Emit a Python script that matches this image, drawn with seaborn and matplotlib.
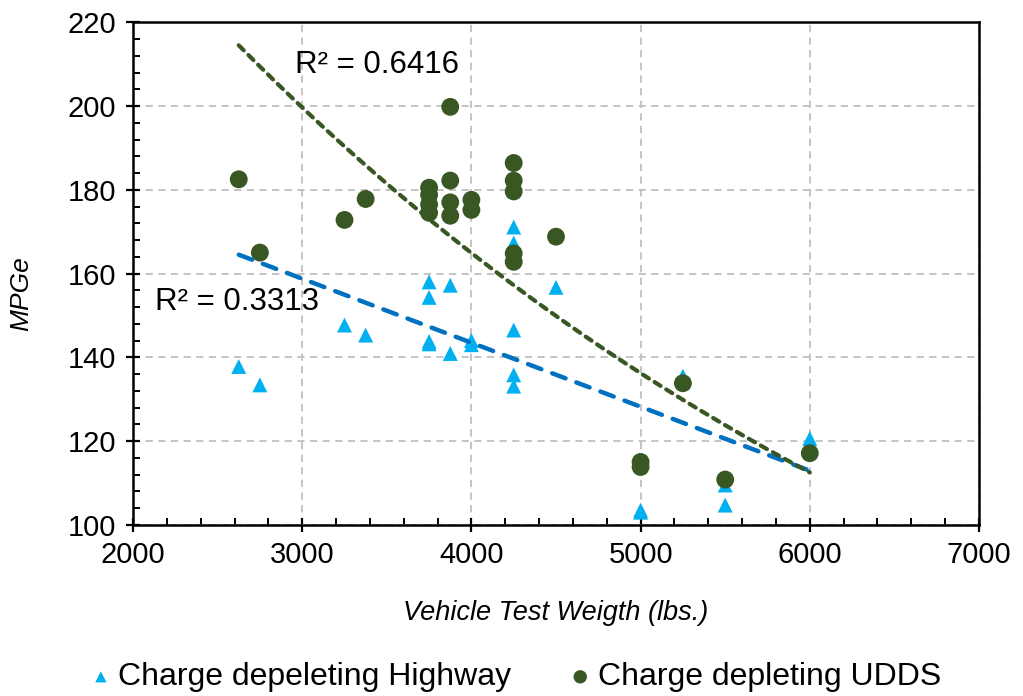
import numpy as np
import pandas as pd
import matplotlib
matplotlib.use("Agg")
import matplotlib.pyplot as plt
from matplotlib.ticker import MultipleLocator
import seaborn as sns

# ---- data ----
hw_weight = [2625, 2750, 3250, 3375, 3750, 3750, 3750, 3750, 3875, 3875, 4000, 4000,
             4250, 4250, 4250, 4250, 4250, 4500, 5000, 5000, 5250, 5500, 5500, 6000]
hw_mpge = [137.8, 133.4, 147.7, 145.3, 158.0, 154.3, 143.8, 143.2, 157.2, 140.9, 144.0, 143.0,
           171.1, 167.3, 146.5, 135.8, 133.1, 156.7, 103.5, 103.0, 135.5, 109.5, 104.7, 120.6]

udds_weight = [2625, 2750, 3250, 3375, 3750, 3750, 3750, 3750, 3875, 3875, 3875, 3875,
               4000, 4000, 4250, 4250, 4250, 4250, 4250, 4500, 5000, 5000, 5250, 5500, 6000]
udds_mpge = [182.5, 165.0, 172.8, 177.8, 180.5, 178.8, 176.5, 174.5, 199.8, 182.2, 177.0, 173.8,
             177.6, 175.2, 186.4, 182.2, 179.6, 164.8, 162.8, 168.8, 115.0, 113.8, 133.8, 110.8, 117.1]

# trendline end values
hw_trend_weight = [2625, 6000]      # linear trendline
hw_trend_mpge = [164.5, 112.9]
udds_trend_weight = [2625, 6000]    # exponential trendline
udds_trend_mpge = [214.5, 112.5]

hw_label = "Charge depeleting Highway"
udds_label = "Charge depleting UDDS"
r2_udds = "R² = 0.6416"
r2_hw = "R² = 0.3313"
x_ticks = [2000, 3000, 4000, 5000, 6000, 7000]
y_ticks = [100, 120, 140, 160, 180, 200, 220]

C_HW = "#00B0F0"
C_HW_LINE = "#0070C0"
C_UDDS = "#385723"

sns.set_theme(style="white")
plt.rcParams["font.family"] = ["Liberation Sans", "DejaVu Sans"]
plt.rcParams["text.color"] = "black"
plt.rcParams["axes.labelcolor"] = "black"

fig = plt.figure(figsize=(10.23, 6.96), dpi=100)
ax = fig.add_axes([0.130, 0.246, 0.827, 0.722])

hw = pd.DataFrame({"w": hw_weight, "m": hw_mpge})
ud = pd.DataFrame({"w": udds_weight, "m": udds_mpge})

# linear trendline for highway
tr_hw = pd.DataFrame({"w": hw_trend_weight, "m": hw_trend_mpge})
# exponential trendline for UDDS: y = a * exp(b x), through the read end values
b = np.log(udds_trend_mpge[1] / udds_trend_mpge[0]) / (udds_trend_weight[1] - udds_trend_weight[0])
a = udds_trend_mpge[0] / np.exp(b * udds_trend_weight[0])
xs_ud = np.linspace(udds_trend_weight[0], udds_trend_weight[1], 200)
tr_ud = pd.DataFrame({"w": xs_ud, "m": a * np.exp(b * xs_ud)})

ax.grid(True, which="major", color="#BFBFBF", linestyle=(0, (4, 3)), linewidth=1.3)
ax.set_axisbelow(True)

sns.scatterplot(data=hw, x="w", y="m", marker="^", s=115, color=C_HW,
                edgecolor="none", label=hw_label, ax=ax, zorder=3)
sns.scatterplot(data=ud, x="w", y="m", marker="o", s=165, color=C_UDDS,
                edgecolor="none", label=udds_label, ax=ax, zorder=3)

sns.lineplot(data=tr_hw, x="w", y="m", color=C_HW_LINE, linewidth=3.2, ax=ax,
             zorder=4, label="_nolegend_")
ax.lines[-1].set_linestyle((0, (3.2, 2.6)))
ax.lines[-1].set_dash_capstyle("round")
sns.lineplot(data=tr_ud, x="w", y="m", color=C_UDDS, linewidth=3.0, ax=ax,
             zorder=4, label="_nolegend_")
ax.lines[-1].set_linestyle((0, (1.7, 1.6)))
ax.lines[-1].set_dash_capstyle("round")

ax.set_xlim(2000, 7000)
ax.set_ylim(100, 220)
ax.set_xticks(x_ticks)
ax.set_yticks(y_ticks)
ax.xaxis.set_minor_locator(MultipleLocator(200))
ax.yaxis.set_minor_locator(MultipleLocator(4))
ax.tick_params(which="major", direction="inout", length=10, width=1.6,
               color="black", labelsize=21, labelcolor="black", pad=7)
ax.tick_params(which="minor", direction="in", length=5, width=1.4, color="black")
ax.tick_params(axis="x", which="both", bottom=True, top=False)
ax.tick_params(axis="y", which="both", left=True, right=False)
for s in ax.spines.values():
    s.set_visible(True)
    s.set_color("black")
    s.set_linewidth(1.8)

ax.set_xlabel("Vehicle Test Weigth (lbs.)", fontsize=19.5, style="italic", color="black")
ax.xaxis.set_label_coords(0.5, -0.15)
ax.set_ylabel("MPGe", fontsize=19, style="italic", color="black")
ax.yaxis.set_label_coords(-0.118, 0.461)

ax.text(2957, 209.7, r2_udds, fontsize=22.5, ha="left", va="center", color="black")
ax.text(2130, 153.2, r2_hw, fontsize=22.5, ha="left", va="center", color="black")

handles, labels = ax.get_legend_handles_labels()
ax.get_legend().remove()
leg = fig.legend(handles, labels, loc="center", bbox_to_anchor=(0.503, 0.027), ncol=2,
                 frameon=False, fontsize=23, markerscale=0.75, handletextpad=0.15,
                 columnspacing=1.75, handlelength=0.8, borderpad=0, borderaxespad=0)
for t in leg.get_texts():
    t.set_color("black")

fig.savefig("out.png", dpi=100)
